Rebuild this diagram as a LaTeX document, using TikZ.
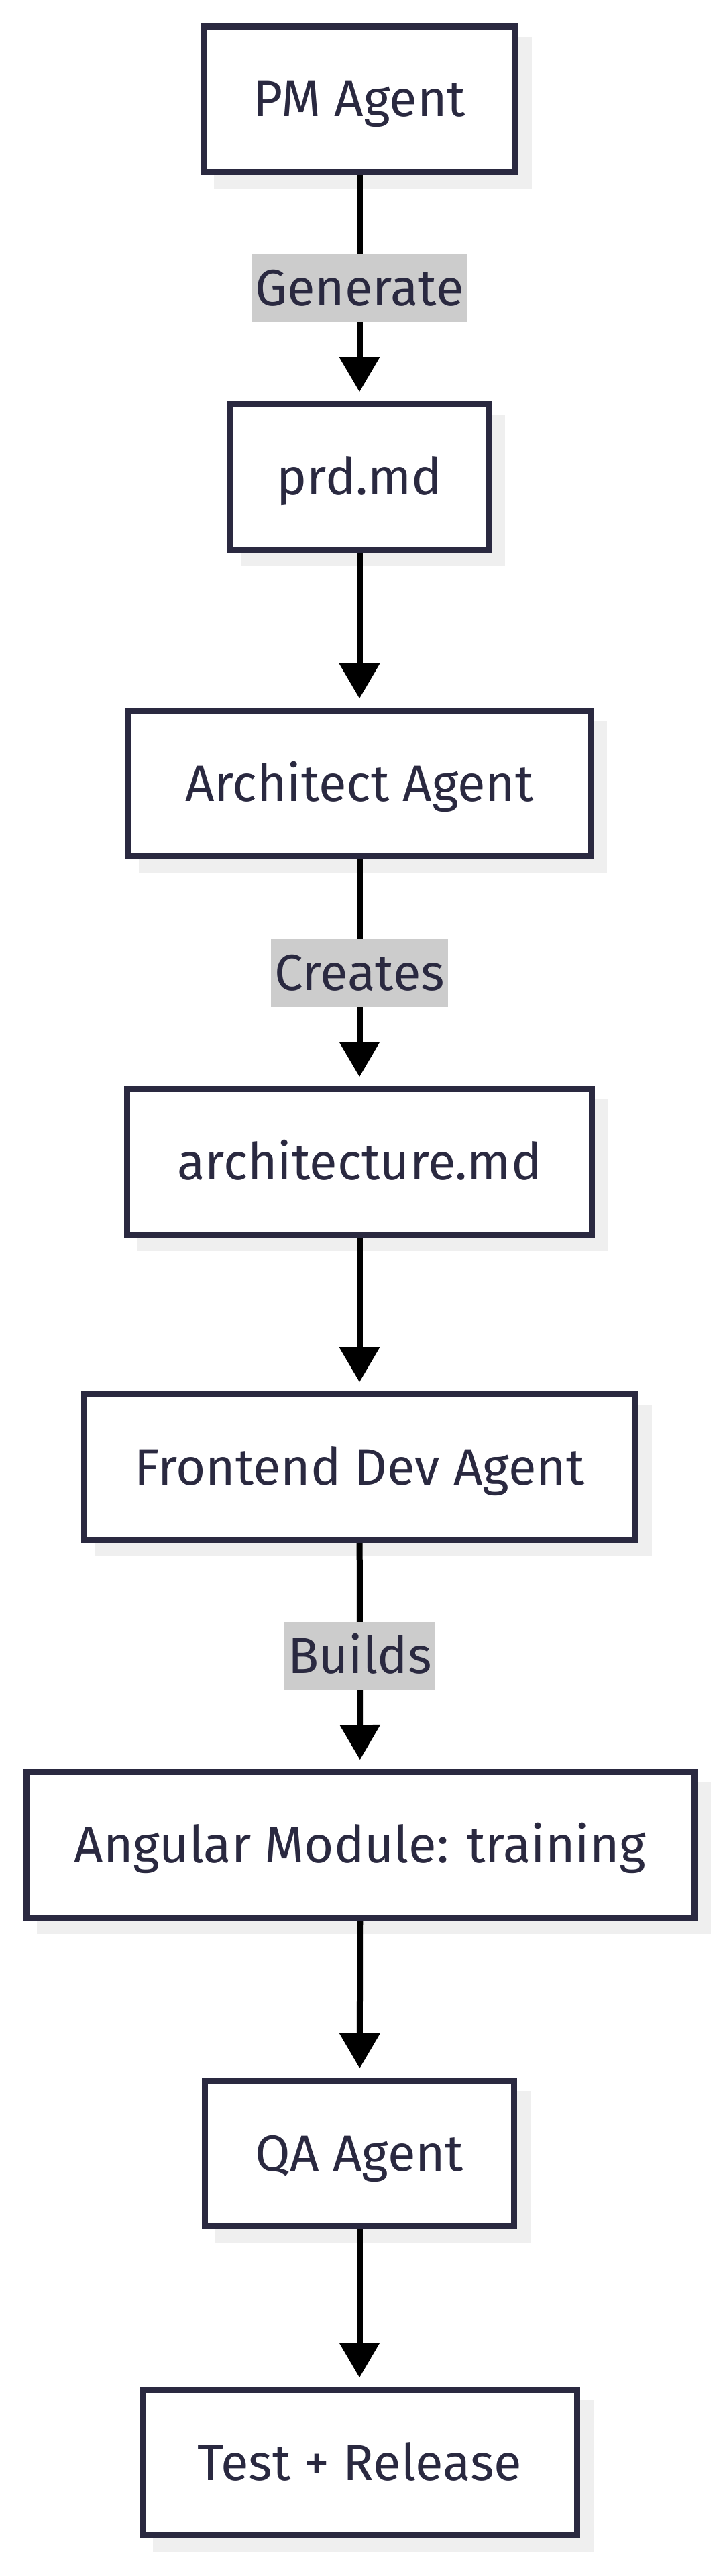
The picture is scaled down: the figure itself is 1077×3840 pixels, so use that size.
\documentclass[tikz,border=0pt]{standalone}
\usepackage{fontspec}
\setmainfont{Fira Sans}
\usetikzlibrary{arrows.meta,backgrounds}
\definecolor{navy}{RGB}{42,41,64}
\definecolor{lblbg}{RGB}{204,204,204}
\definecolor{shadowc}{RGB}{239,239,239}
\tikzset{
  box/.style={draw=navy, line width=9pt, fill=white, minimum height=217pt,
    text=navy, font=\fontsize{76pt}{90pt}\selectfont, text height=52pt,
    text depth=0pt, inner sep=0pt},
  lbl/.style={fill=lblbg, text=navy, font=\fontsize{76pt}{90pt}\selectfont,
    minimum height=101pt, inner xsep=5pt, inner ysep=0pt, text height=52pt,
    text depth=0pt},
  flow/.style={line width=9pt, draw=black,
    -{Triangle[length=52pt,width=61pt,line width=0pt]}, shorten >=14pt},
}
\begin{document}
\begin{tikzpicture}[x=1pt,y=-1pt]
\useasboundingbox (0,0) rectangle (1077,3840);
\node[box, minimum width=465pt] (pm) at (536,148) {PM Agent};
\node[box, minimum width=385pt] (prd) at (536,711) {prd.md};
\node[box, minimum width=689pt] (arch) at (536,1168) {Architect Agent};
\node[box, minimum width=693pt] (archmd) at (536,1732) {architecture.md};
\node[box, minimum width=822pt] (fe) at (536,2187) {Frontend Dev Agent};
\node[box, minimum width=996pt] (ang) at (537,2750) {Angular Module: training};
\node[box, minimum width=461pt] (qa) at (536,3210) {QA Agent};
\node[box, minimum width=648pt] (test) at (536,3671) {Test + Release};
\begin{scope}[on background layer]
  \foreach \n in {pm,prd,arch,archmd,fe,ang,qa,test}
    \fill[shadowc] ([shift={(20,20)}]\n.north west) rectangle ([shift={(20,20)}]\n.south east);
\end{scope}
\draw[flow] (pm) -- node[lbl] (l1) {Generate} (prd);
\draw[flow] (prd) -- (arch);
\draw[flow] (arch) -- node[lbl] (l2) {Creates} (archmd);
\draw[flow] (archmd) -- (fe);
\draw[flow] (fe) -- node[lbl] (l3) {Builds} (ang);
\draw[flow] (ang) -- (qa);
\draw[flow] (qa) -- (test);
\end{tikzpicture}
\end{document}
